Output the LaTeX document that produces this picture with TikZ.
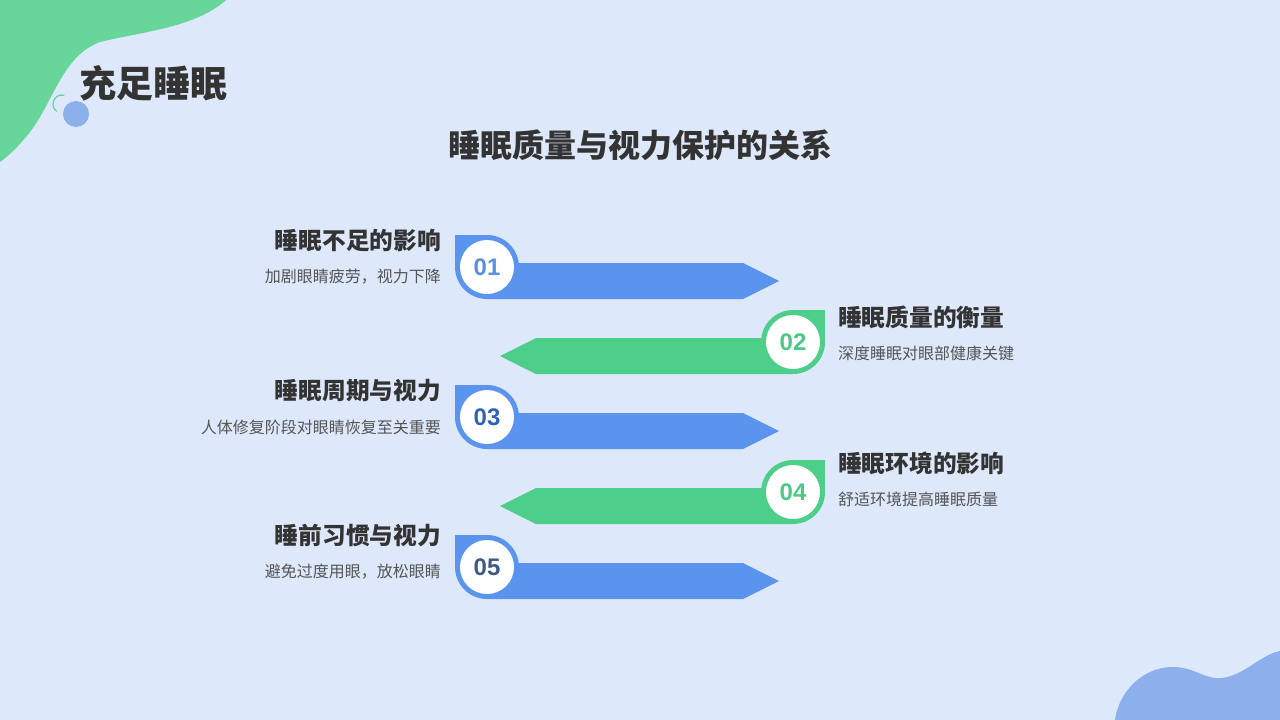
\documentclass[tikz,border=0pt]{standalone}
\usepackage{fontspec}
\setmainfont{Noto Sans CJK SC}
\newfontfamily\numfont{Liberation Sans}
\definecolor{bgc}{HTML}{DDE8FA}
\definecolor{blobg}{HTML}{68D59B}
\definecolor{blobb}{HTML}{8BB0EC}
\definecolor{barb}{HTML}{5B94EF}
\definecolor{barg}{HTML}{4DCE89}
\definecolor{numa}{HTML}{5B8FE0}
\definecolor{numc}{HTML}{2F63B8}
\definecolor{nume}{HTML}{3D5B86}
\definecolor{numg}{HTML}{4DC886}
\definecolor{tdark}{HTML}{333333}
\definecolor{tgray}{HTML}{555555}
\tikzset{
  ttl/.style={font=\fontsize{23.7}{28}\selectfont\bfseries, text=tdark, inner sep=0pt},
  sub/.style={font=\fontsize{16}{19}\selectfont, text=tgray, inner sep=0pt},
  numtxt/.style={font=\numfont\fontsize{24}{28}\selectfont\bfseries, inner sep=0pt},
  dot/.style={circle, fill=white, minimum size=54pt, inner sep=0pt}
}
\begin{document}
\begin{tikzpicture}[x=1pt,y=-1pt]
\fill[bgc] (0,0) rectangle (1280,720);
\useasboundingbox (0,0) rectangle (1280,720);
% blobs
\fill[blobg] (0,0) -- (226,0) .. controls (195,28) and (140,32) .. (100,42)
  .. controls (65,55) and (55,95) .. (35,125) .. controls (25,140) and (10,155) .. (0,162) -- cycle;
\fill[blobb] (1115,720) .. controls (1118,695) and (1140,667) .. (1173,667)
  .. controls (1195,667) and (1205,680) .. (1222,678)
  .. controls (1245,675) and (1260,655) .. (1280,651) -- (1280,720) -- cycle;
\draw[blobg, line width=1.3pt] (62,104) ++(-75:9) arc[start angle=-75, end angle=-235, radius=9];
\fill[blobb] (76,114) circle[radius=13];
% titles
\node[anchor=west, font=\fontsize{37}{42}\selectfont\bfseries, text=tdark, inner sep=0pt] (head) at (79,83) {充足睡眠};
\node[font=\fontsize{32}{38}\selectfont\bfseries, text=tdark, inner sep=0pt] (main) at (640,145) {睡眠质量与视力保护的关系};
% blue items
\foreach \cy/\nm/\nc in {267/01/numa, 417/03/numc, 567/05/nume}{
  \fill[barb] (487,\cy) circle[radius=32];
  \fill[barb] (455,\cy-32) rectangle (487,\cy);
  \fill[barb] (487,\cy-4) -- (743,\cy-4) -- (779,\cy+14) -- (743,\cy+32) -- (487,\cy+32) -- cycle;
  \node[dot] (d\nm) at (487,\cy) {};
  \node[numtxt, text=\nc] at (d\nm) {\nm};
}
% green items
\foreach \cy/\nm in {342/02, 492/04}{
  \fill[barg] (793,\cy) circle[radius=32];
  \fill[barg] (793,\cy-32) rectangle (825,\cy);
  \fill[barg] (793,\cy-4) -- (536,\cy-4) -- (500,\cy+14) -- (536,\cy+32) -- (793,\cy+32) -- cycle;
  \node[dot] (d\nm) at (793,\cy) {};
  \node[numtxt, text=numg] at (d\nm) {\nm};
}
% left texts
\node[ttl, anchor=east] (t1) at (441,241) {睡眠不足的影响};
\node[sub, anchor=east] (s1) at (441,277) {加剧眼睛疲劳，视力下降};
\node[ttl, anchor=east] (t3) at (441,391) {睡眠周期与视力};
\node[sub, anchor=east] (s3) at (441,427) {人体修复阶段对眼睛恢复至关重要};
\node[ttl, anchor=east] (t5) at (441,536) {睡前习惯与视力};
\node[sub, anchor=east] (s5) at (441,572) {避免过度用眼，放松眼睛};
% right texts
\node[ttl, anchor=west] (t2) at (838,317) {睡眠质量的衡量};
\node[sub, anchor=west] (s2) at (838,353) {深度睡眠对眼部健康关键};
\node[ttl, anchor=west] (t4) at (838,463) {睡眠环境的影响};
\node[sub, anchor=west] (s4) at (838,499) {舒适环境提高睡眠质量};
\end{tikzpicture}
\end{document}
